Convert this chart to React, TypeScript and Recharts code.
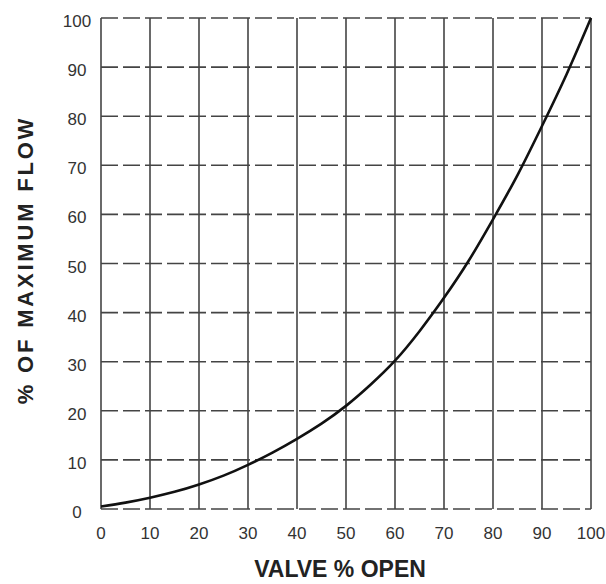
import React from 'react';
import { CartesianGrid, Label, Line, LineChart, XAxis, YAxis } from 'recharts';

// valve opening (%) and resulting flow (% of max)
const valveOpen = [0, 5, 10, 15, 20, 25, 30, 35, 40, 45, 50, 55, 60, 65, 70, 75, 80, 85, 90, 95, 100];
const maxFlow = [0.5, 1.3, 2.3, 3.5, 5, 6.8, 9, 11.5, 14.3, 17.4, 21, 25.3, 30.2, 36.2, 43, 50.5, 59, 68, 78, 88.5, 100];
const axisTicks = [0, 10, 20, 30, 40, 50, 60, 70, 80, 90, 100];

const data = valveOpen.map((v, i) => ({ open: v, flow: maxFlow[i] }));

const font = '"Liberation Sans", Arial, Helvetica, sans-serif';
const tickStyle = { fontSize: 17, fill: '#333', fontFamily: font };

const App: React.FC = () => {
  return (
    <div style={{ position: 'absolute', left: 0, top: 0, background: '#fff' }}>
      <LineChart
        width={606}
        height={584}
        data={data}
        margin={{ top: 18, right: 15, bottom: 0, left: 0 }}
      >
        <CartesianGrid horizontal={false} stroke="#444" strokeWidth={1.6} />
        <CartesianGrid vertical={false} stroke="#444" strokeWidth={1.6} strokeDasharray="17 5" />
        <XAxis
          dataKey="open"
          type="number"
          domain={[0, 100]}
          ticks={axisTicks}
          interval={0}
          height={75}
          axisLine={false}
          tickLine={false}
          tickSize={0}
          tickMargin={18}
          tick={tickStyle}
        >
          <Label
            content={() => (
              <text
                x={340}
                y={569}
                textAnchor="middle"
                dominantBaseline="central"
                fontFamily={font}
                fontWeight="bold"
                fontSize={23}
                fill="#222"
              >
                VALVE % OPEN
              </text>
            )}
          />
        </XAxis>
        <YAxis
          type="number"
          domain={[0, 100]}
          ticks={axisTicks}
          interval={0}
          width={101}
          axisLine={false}
          tickLine={false}
          tickSize={0}
          tickMargin={24}
          tick={{ ...tickStyle, textAnchor: 'middle', dy: 3 }}
        >
          <Label
            content={() => (
              <text
                x={25}
                y={260}
                transform="rotate(-90 25 260)"
                textAnchor="middle"
                dominantBaseline="central"
                fontFamily={font}
                fontWeight="bold"
                fontSize={22}
                letterSpacing={2.8}
                fill="#222"
              >
                % OF MAXIMUM FLOW
              </text>
            )}
          />
        </YAxis>
        <Line
          type="natural"
          dataKey="flow"
          stroke="#111"
          strokeWidth={2.6}
          dot={false}
          isAnimationActive={false}
        />
      </LineChart>
    </div>
  );
};

export default App;
